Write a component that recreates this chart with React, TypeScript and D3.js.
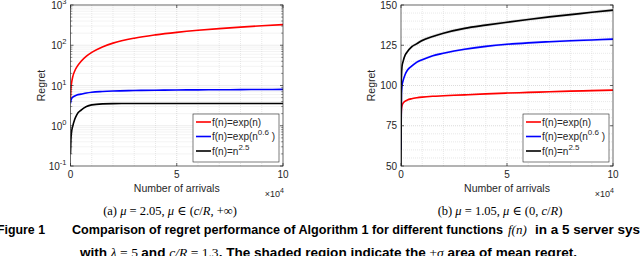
import * as d3 from "d3";

const arrivals = [0, 200, 500, 1000, 2000, 3000, 5000, 7500, 10000, 15000, 20000, 30000, 40000, 50000, 60000, 70000, 80000, 90000, 100000];

// panel (a): mu = 2.05 (log y axis)
const aExpN = [4.5, 8, 11.5, 16, 23, 29, 40, 53.5, 66.5, 91, 113, 150, 181, 209, 235, 259, 282, 304, 326];
const aExpN06 = [3.6, 4.2, 4.7, 5.1, 5.5, 5.8, 6.1, 6.5, 6.8, 7.1, 7.3, 7.5, 7.65, 7.75, 7.8, 7.85, 7.9, 7.95, 8.0];
const aPow25 = [0.2, 0.45, 0.7, 0.95, 1.45, 1.9, 2.45, 3.0, 3.3, 3.5, 3.55, 3.57, 3.57, 3.57, 3.57, 3.57, 3.57, 3.57, 3.57];

// panel (b): mu = 1.05 (linear y axis)
const bExpN = [77, 85, 87.5, 89, 90.3, 91, 91.8, 92.4, 92.8, 93.3, 93.6, 94.2, 94.8, 95.3, 95.7, 96.1, 96.5, 96.8, 97.1];
const bExpN06 = [60, 95, 100, 103, 107, 109.5, 112, 114.5, 116, 118.5, 120, 122.5, 124.3, 125.6, 126.5, 127.2, 127.8, 128.3, 128.8];
const bPow25 = [50, 105, 112, 115, 119, 121, 124, 126, 128, 130.5, 132.5, 135.5, 137.5, 139.3, 141, 142.6, 144, 145.5, 146.8];

// +/- sigma half widths of the shaded bands
const aSigma = [0.02, 0.02, 0.02];
const bSigma = [0.5, 0.8, 1.0];

const xTicks = [0, 50000, 100000];
const xTickLabels = ["0", "5", "10"];
const aYTicks = [0.1, 1, 10, 100, 1000];
const aYExp = ["-1", "0", "1", "2", "3"];
const bYTicks = [50, 75, 100, 125, 150];

const legendLabels = [
  { base: "f(n)=exp(n)", sup: "", tail: "" },
  { base: "f(n)=exp(n", sup: "0.6", tail: " )" },
  { base: "f(n)=n", sup: "2.5", tail: "" },
];
const colors = ["#ff0000", "#0000ff", "#000000"];

const FONT = "'Liberation Sans', Arial, Helvetica, sans-serif";
const SERIF = "'Liberation Serif', 'DejaVu Serif', serif";
const INK = "#262626";

interface PanelProps {
  id: string;
  left: number;
  right: number;
  log: boolean;
  series: number[][];
  sigma: number[];
  legendX: number;
}

function Panel({ id, left, right, log, series, sigma, legendX }: PanelProps) {
  const top = 5;
  const bottom = 166;
  const x = d3.scaleLinear().domain([0, 100000]).range([left, right]);
  const y = log
    ? d3.scaleLog().domain([0.1, 1000]).range([bottom, top])
    : d3.scaleLinear().domain([50, 150]).range([bottom, top]);

  const xGrid = d3.range(10000, 100000, 10000);
  const yMinor: number[] = [];
  const yMajor: number[] = log ? [1, 10, 100] : [75, 100, 125];
  if (log) {
    [0.1, 1, 10, 100].forEach((d) => {
      for (let k = 2; k <= 9; k++) yMinor.push(d * k);
    });
  } else {
    for (let v = 55; v < 150; v += 5) if (v % 25 !== 0) yMinor.push(v);
  }

  const line = d3
    .line<number>()
    .x((_, i) => x(arrivals[i]))
    .y((d) => y(d))
    .curve(d3.curveMonotoneX);
  const band = (vals: number[], s: number) =>
    d3
      .area<number>()
      .x((_, i) => x(arrivals[i]))
      .y0((d) => y(log ? d / (1 + s) : d - s))
      .y1((d) => y(log ? d * (1 + s) : d + s))
      .curve(d3.curveMonotoneX)(vals) || "";

  const tick = 3;
  const yTickVals = log ? aYTicks : bYTicks;
  const minorTickVals = log ? yMinor : [];

  return (
    <g>
      <defs>
        <clipPath id={`clip-${id}`}>
          <rect x={left} y={top} width={right - left} height={bottom - top} />
        </clipPath>
      </defs>
      <rect x={left} y={top} width={right - left} height={bottom - top} fill="#fff" />
      {/* grid */}
      {xGrid.map((v) => (
        <line key={`gx${v}`} x1={x(v)} x2={x(v)} y1={top} y2={bottom}
          stroke={v === 50000 ? "#c4c4c4" : "#d8d8d8"} strokeWidth={0.6} strokeDasharray="1,1" />
      ))}
      {yMinor.map((v) => (
        <line key={`gy${v}`} x1={left} x2={right} y1={y(v)} y2={y(v)}
          stroke="#d8d8d8" strokeWidth={0.6} strokeDasharray="1,1" />
      ))}
      {yMajor.map((v) => (
        <line key={`gY${v}`} x1={left} x2={right} y1={y(v)} y2={y(v)}
          stroke="#c4c4c4" strokeWidth={0.6} strokeDasharray="1,1" />
      ))}
      {/* bands and curves */}
      <g clipPath={`url(#clip-${id})`}>
        {series.map((s, i) => (
          <path key={`b${i}`} d={band(s, sigma[i])} fill={colors[i]} opacity={0.12} />
        ))}
        {series.map((s, i) => (
          <path key={`l${i}`} d={line(s) || ""} fill="none" stroke={colors[i]} strokeWidth={1.6} />
        ))}
      </g>
      {/* box */}
      <rect x={left} y={top} width={right - left} height={bottom - top} fill="none" stroke={INK} strokeWidth={0.7} />
      {/* ticks */}
      {xTicks.map((v) => (
        <g key={`xt${v}`}>
          <line x1={x(v)} x2={x(v)} y1={bottom} y2={bottom - tick} stroke={INK} strokeWidth={0.7} />
          <line x1={x(v)} x2={x(v)} y1={top} y2={top + tick} stroke={INK} strokeWidth={0.7} />
        </g>
      ))}
      {yTickVals.map((v) => (
        <g key={`yt${v}`}>
          <line x1={left} x2={left + tick} y1={y(v)} y2={y(v)} stroke={INK} strokeWidth={0.7} />
          <line x1={right} x2={right - tick} y1={y(v)} y2={y(v)} stroke={INK} strokeWidth={0.7} />
        </g>
      ))}
      {minorTickVals.map((v) => (
        <g key={`ym${v}`}>
          <line x1={left} x2={left + 1.8} y1={y(v)} y2={y(v)} stroke={INK} strokeWidth={0.5} />
          <line x1={right} x2={right - 1.8} y1={y(v)} y2={y(v)} stroke={INK} strokeWidth={0.5} />
        </g>
      ))}
      {/* tick labels */}
      <g fontFamily={FONT} fontSize={10} fill={INK}>
        {xTicks.map((v, i) => (
          <text key={`xl${v}`} x={x(v)} y={bottom + 12} textAnchor="middle">{xTickLabels[i]}</text>
        ))}
        {log
          ? aYTicks.map((v, i) => (
              <text key={`yl${v}`} x={left - 4} y={y(v) + 4} textAnchor="end">
                10<tspan dy={-5} fontSize={7.5}>{aYExp[i]}</tspan>
              </text>
            ))
          : bYTicks.map((v) => (
              <text key={`yl${v}`} x={left - 4} y={y(v) + 3.5} textAnchor="end">{v}</text>
            ))}
        <text x={(left + right) / 2} y={192} textAnchor="middle" fontSize={10.5}>Number of arrivals</text>
        <text x={right + 1} y={197} textAnchor="end" fontSize={9}>
          {"\u00d710"}<tspan dy={-4} fontSize={7}>4</tspan>
        </text>
        <text transform={`translate(${left - 26},${(top + bottom) / 2}) rotate(-90)`} textAnchor="middle" fontSize={10.5}>Regret</text>
      </g>
      {/* legend */}
      <g fontFamily={FONT} fontSize={10} fill={INK}>
        <rect x={legendX} y={114} width={right - 4 - legendX} height={48} fill="#fff" stroke={INK} strokeWidth={0.6} />
        {legendLabels.map((l, i) => (
          <g key={`lg${i}`}>
            <line x1={legendX + 3} x2={legendX + 18} y1={122 + i * 14.5} y2={122 + i * 14.5} stroke={colors[i]} strokeWidth={1.6} />
            <text x={legendX + 19} y={125.5 + i * 14.5}>
              {l.base}
              {l.sup && <tspan dy={-5} fontSize={8}>{l.sup}</tspan>}
              {l.tail && <tspan dy={5}>{l.tail}</tspan>}
            </text>
          </g>
        ))}
      </g>
    </g>
  );
}

export default function App() {
  return (
    <svg width={640} height={256} style={{ position: "absolute", left: 0, top: 0, background: "#fff" }}>
      <Panel id="a" left={70.5} right={283} log={true} series={[aExpN, aExpN06, aPow25]} sigma={aSigma} legendX={193} />
      <Panel id="b" left={401} right={613} log={false} series={[bExpN, bExpN06, bPow25]} sigma={bSigma} legendX={523} />
      {/* sub captions */}
      <g fontFamily={SERIF} fontSize={12.5} fill="#000">
        <text x={170} y={215} textAnchor="middle">
          (a) <tspan fontStyle="italic">μ</tspan> = 2.05, <tspan fontStyle="italic">μ</tspan> ∈ (<tspan fontStyle="italic">c</tspan>/<tspan fontStyle="italic">R</tspan>, +∞)
        </text>
        <text x={500} y={215} textAnchor="middle">
          (b) <tspan fontStyle="italic">μ</tspan> = 1.05, <tspan fontStyle="italic">μ</tspan> ∈ (0, <tspan fontStyle="italic">c</tspan>/<tspan fontStyle="italic">R</tspan>)
        </text>
      </g>
      {/* figure caption */}
      <g fontFamily={FONT} fontWeight="bold" fontSize={12} fill="#000">
        <text x={-3} y={234} textLength={48} lengthAdjust="spacingAndGlyphs">Figure 1</text>
        <text x={72} y={234} textLength={431} lengthAdjust="spacingAndGlyphs">Comparison of regret performance of Algorithm 1 for different functions</text>
        <text x={508} y={234} fontFamily={SERIF} fontWeight="normal" fontStyle="italic" fontSize={13}>f(n)</text>
        <text x={535} y={234} fontSize={13.5}>in a 5 server system</text>
        <text x={80} y={257} textLength={497} lengthAdjust="spacingAndGlyphs">
          with <tspan fontFamily={SERIF} fontWeight="normal" fontStyle="italic">λ</tspan>
          <tspan fontFamily={SERIF} fontWeight="normal"> = 5 </tspan>and{" "}
          <tspan fontFamily={SERIF} fontWeight="normal" fontStyle="italic">c/R</tspan>
          <tspan fontFamily={SERIF} fontWeight="normal"> = 1.3</tspan>. The shaded region indicate the{" "}
          <tspan fontFamily={SERIF} fontWeight="normal">±<tspan fontStyle="italic">σ</tspan></tspan> area of mean regret.
        </text>
      </g>
    </svg>
  );
}
